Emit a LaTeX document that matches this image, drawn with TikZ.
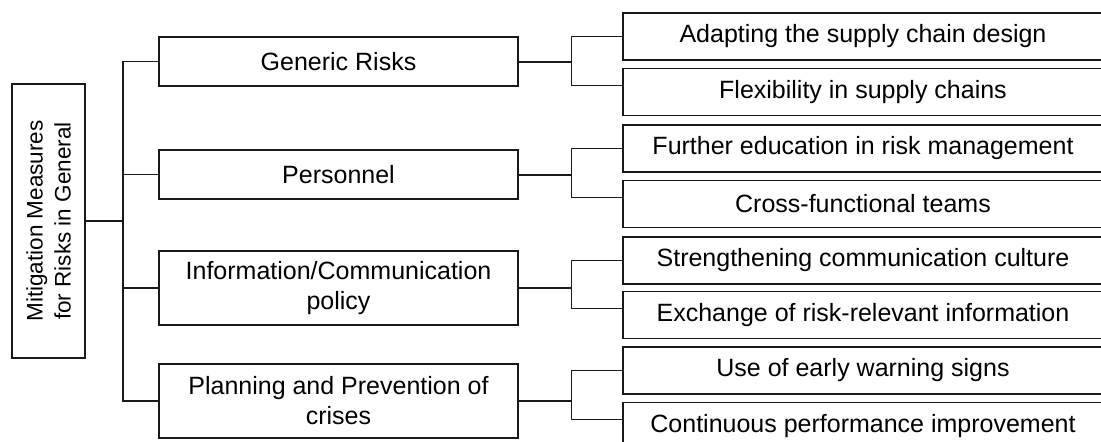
\documentclass[tikz,border=0pt]{standalone}
\usepackage{fontspec}
\setmainfont{Liberation Sans}
\usetikzlibrary{positioning}

\begin{document}
\begin{tikzpicture}[
  x=1pt, y=-1pt,
  box/.style={rectangle, draw=black!90, line width=1.3pt, inner sep=0pt,
              align=center, font=\fontsize{25}{30}\selectfont},
  rootbox/.style={box, minimum width=73pt, minimum height=274pt,
              font=\fontsize{22.5}{28}\selectfont},
  area/.style={box, minimum width=359pt},
  measure/.style={box, minimum width=480pt, minimum height=47pt},
  link/.style={line width=1.3pt, black!90},
  stem/.style={line width=2pt, black!90}
]
  \useasboundingbox (0,0) rectangle (1101,442);
  \clip (0,0) rectangle (1101,442);

  \node[rootbox] (root) at (48.5,221)
    {\rotatebox{90}{\parbox{260pt}{\centering Mitigation Measures\\for Risks in General}}};

  \node[area, minimum height=49pt] (gen)  at (338.5,61.5) {Generic Risks};
  \node[area, minimum height=49pt] (pers) at (338.5,174.5) {Personnel};
  \node[area, minimum height=74pt] (info) at (338.5,288) {Information/Communication\\policy};
  \node[area, minimum height=74pt] (plan) at (338.5,401) {Planning and Prevention of\\crises};

  \node[measure] (design) at (863,36.5) {Adapting the supply chain design};
  \node[measure, below=7pt of design] (flex) {Flexibility in supply chains};
  \node[measure] (edu) at (863,148.5) {Further education in risk management};
  \node[measure, below=7pt of edu] (teams) {Cross-functional teams};
  \node[measure] (culture) at (863,260.5) {Strengthening communication culture};
  \node[measure, below=6pt of culture] (exch) {Exchange of risk-relevant information};
  \node[measure] (warn) at (863,370.5) {Use of early warning signs};
  \node[measure, below=7pt of warn] (perf) {Continuous performance improvement};

  % trunk from the root
  \coordinate (trunk) at (123,221);
  \draw[link] (root.east) -- (trunk);
  \foreach \m in {gen,pers,info,plan}
    \draw[link] (trunk) |- (\m.west);

  % brackets to the measures
  \foreach \m/\a/\b in {gen/design/flex, pers/edu/teams, info/culture/exch, plan/warn/perf} {
    \draw[stem] (\m.east) -- ++(53,0) coordinate (j);
    \draw[link] (j) |- (\a.west);
    \draw[link] (j) |- ([yshift=6pt]\b.west);
  }
\end{tikzpicture}
\end{document}
